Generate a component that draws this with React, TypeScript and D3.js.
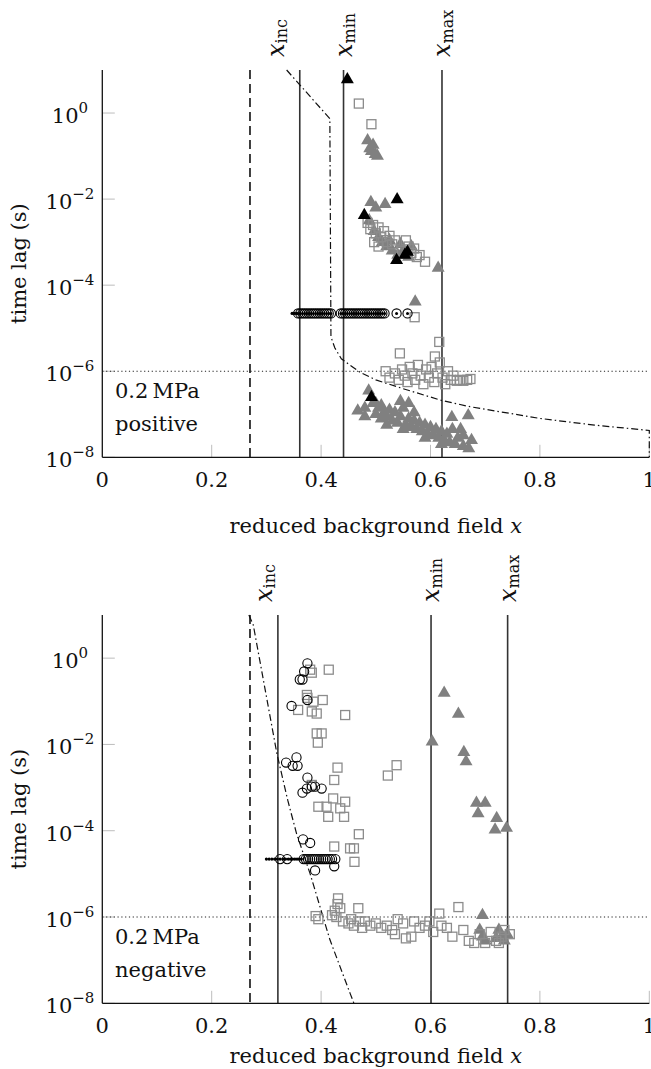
import React from "react";
import * as d3 from "d3";

// ---------- shared axis data ----------
const X_TICKS = [0, 0.2, 0.4, 0.6, 0.8, 1];
const X_TICK_LABELS = ["0", "0.2", "0.4", "0.6", "0.8", "1"];
const Y_TICK_EXPONENTS = [0, -2, -4, -6, -8];
const Y_DOMAIN: [number, number] = [1e-8, 1e1];
const X_DOMAIN: [number, number] = [0, 1];
const THRESHOLD = 1e-6;
const X_TITLE = "reduced background field ";
const Y_TITLE = "time lag (s)";

// ---------- top panel (positive) ----------
const TOP_LINES = { dashed: 0.27, inc: 0.361, min: 0.441, max: 0.621 };
const TOP_INC_LABEL_X = 0.318;
const TOP_CURVE: [number, number][] = [
  [0.337, 10], [0.416, 0.74], [0.418, 6.3e-6], [0.425, 3.5e-6], [0.437, 1.95e-6],
  [0.453, 1.38e-6], [0.471, 9.5e-7], [0.5, 6.3e-7], [0.548, 4.0e-7], [0.62, 2.1e-7],
  [0.672, 1.5e-7], [0.8, 8.0e-8], [0.9, 5.6e-8], [1.0, 4.2e-8], [1.0, 1e-8],
];
const TOP_GRAY_TRIANGLES: [number, number][] = [
  [0.485, 2.3e-1], [0.489, 1.5e-1], [0.499, 1.1e-1], [0.492, 1.3e-1], [0.503, 1.0e-1], [0.495, 1.8e-1],
  [0.491, 8.5e-3], [0.517, 7.6e-3], [0.5, 6.3e-3], [0.488, 3.2e-3], [0.497, 1.8e-3], [0.505, 1.3e-3],
  [0.512, 1.0e-3], [0.52, 7.9e-4], [0.53, 6.3e-4], [0.54, 5.0e-4], [0.55, 6.3e-4], [0.56, 4.5e-4],
  [0.525, 1.1e-3], [0.545, 8.9e-4], [0.565, 7.9e-4], [0.614, 2.5e-4], [0.572, 4.1e-5],
  [0.467, 1.2e-7], [0.487, 3.5e-7], [0.48, 1.4e-7], [0.495, 1.8e-7], [0.5, 1.0e-7], [0.505, 1.4e-7],
  [0.51, 7.9e-8], [0.515, 1.1e-7], [0.52, 8.9e-8], [0.525, 1.26e-7], [0.53, 7.1e-8], [0.535, 1.1e-7],
  [0.54, 6.3e-8], [0.545, 8.9e-8], [0.55, 1.4e-7], [0.555, 5.6e-8], [0.56, 7.9e-8], [0.565, 5.0e-8],
  [0.57, 7.1e-8], [0.575, 4.5e-8], [0.58, 6.3e-8], [0.585, 4.0e-8], [0.59, 5.6e-8], [0.595, 3.5e-8],
  [0.6, 5.0e-8], [0.605, 3.2e-8], [0.61, 4.5e-8], [0.615, 2.8e-8], [0.62, 4.0e-8], [0.625, 2.5e-8],
  [0.63, 3.5e-8], [0.635, 2.2e-8], [0.639, 8.5e-8], [0.645, 2.0e-8], [0.65, 2.8e-8], [0.655, 4.5e-8],
  [0.66, 1.8e-8], [0.669, 9.3e-8], [0.67, 1.6e-8], [0.675, 2.5e-8], [0.48, 8.9e-8], [0.51, 1.6e-7],
  [0.52, 5.6e-8], [0.55, 4.5e-8], [0.57, 1.1e-7], [0.59, 2.8e-8], [0.62, 2.0e-8], [0.64, 4.5e-8],
  [0.66, 3.2e-8], [0.5, 1.8e-7], [0.545, 2.0e-7], [0.56, 1.8e-7],
];
const TOP_SQUARES: [number, number][] = [
  [0.469, 1.66], [0.492, 5.5e-1],
  [0.485, 2.8e-3], [0.49, 2.0e-3], [0.495, 2.5e-3], [0.5, 1.6e-3], [0.505, 2.2e-3], [0.51, 1.3e-3],
  [0.515, 1.8e-3], [0.52, 1.0e-3], [0.525, 1.4e-3], [0.53, 8.9e-4], [0.535, 1.1e-3], [0.497, 1.0e-3],
  [0.505, 7.9e-4], [0.555, 1.1e-3], [0.56, 7.9e-4], [0.565, 5.6e-4], [0.57, 7.1e-4], [0.575, 4.5e-4],
  [0.58, 5.0e-4], [0.59, 3.5e-4], [0.548, 6.3e-4],
  [0.571, 1.8e-5], [0.616, 4.8e-6], [0.544, 2.6e-6], [0.608, 2.2e-6],
  [0.518, 1.0e-6], [0.525, 7.1e-7], [0.535, 8.9e-7], [0.542, 6.3e-7], [0.548, 1.1e-6], [0.553, 7.9e-7],
  [0.558, 5.6e-7], [0.562, 1.26e-6], [0.567, 8.9e-7], [0.572, 6.3e-7], [0.577, 1.4e-6], [0.582, 7.9e-7],
  [0.587, 5.0e-7], [0.592, 1.1e-6], [0.597, 7.1e-7], [0.602, 1.26e-6], [0.607, 5.6e-7], [0.612, 8.9e-7],
  [0.617, 1.6e-6], [0.622, 7.1e-7], [0.627, 5.0e-7], [0.632, 1.0e-6], [0.637, 6.3e-7], [0.642, 7.9e-7],
  [0.648, 6.0e-7], [0.654, 6.3e-7], [0.66, 6.0e-7], [0.667, 6.3e-7], [0.673, 6.6e-7],
];
const TOP_BLACK_TRIANGLES: [number, number][] = [
  [0.448, 6.0], [0.539, 9.8e-3], [0.479, 4.2e-3], [0.558, 5.9e-4], [0.538, 3.8e-4], [0.553, 5.0e-4], [0.492, 2.5e-7],
];
const TOP_DOT_CIRCLES: [number, number][] = [
  [0.358, 2.2e-5], [0.362, 2.2e-5], [0.366, 2.2e-5], [0.37, 2.2e-5], [0.374, 2.2e-5], [0.378, 2.2e-5],
  [0.382, 2.2e-5], [0.386, 2.2e-5], [0.39, 2.2e-5], [0.394, 2.2e-5], [0.398, 2.2e-5], [0.402, 2.2e-5],
  [0.406, 2.2e-5], [0.41, 2.2e-5], [0.414, 2.2e-5], [0.418, 2.2e-5],
  [0.436, 2.2e-5], [0.44, 2.2e-5], [0.444, 2.2e-5], [0.448, 2.2e-5], [0.452, 2.2e-5], [0.456, 2.2e-5],
  [0.46, 2.2e-5], [0.464, 2.2e-5], [0.468, 2.2e-5], [0.472, 2.2e-5], [0.476, 2.2e-5], [0.48, 2.2e-5],
  [0.484, 2.2e-5], [0.488, 2.2e-5], [0.492, 2.2e-5], [0.496, 2.2e-5], [0.5, 2.2e-5], [0.504, 2.2e-5],
  [0.508, 2.2e-5], [0.512, 2.2e-5], [0.516, 2.2e-5], [0.538, 2.2e-5], [0.558, 2.2e-5],
];
const TOP_DOTS: [number, number][] = [[0.347, 2.2e-5], [0.351, 2.2e-5], [0.355, 2.2e-5]];

// ---------- bottom panel (negative) ----------
const BOT_LINES = { dashed: 0.27, inc: 0.321, min: 0.601, max: 0.741 };
const BOT_INC_LABEL_X = 0.296;
const BOT_CURVE: [number, number][] = [
  [0.268, 10], [0.276, 5.9], [0.319, 6.3e-3], [0.339, 5.1e-4], [0.355, 8.7e-5],
  [0.38, 1.0e-5], [0.416, 3.0e-7], [0.453, 1.7e-8], [0.46, 1e-8],
];
const BOT_GRAY_TRIANGLES: [number, number][] = [
  [0.625, 1.55e-1], [0.651, 5.1e-2], [0.603, 1.15e-2], [0.661, 6.6e-3], [0.665, 4.0e-3],
  [0.684, 4.4e-4], [0.7, 4.4e-4], [0.687, 2.5e-4], [0.721, 1.95e-4], [0.718, 1.05e-4], [0.739, 1.15e-4],
  [0.695, 1.1e-6], [0.69, 5.0e-7], [0.695, 3.5e-7], [0.7, 2.8e-7], [0.725, 5.0e-7], [0.73, 3.5e-7],
  [0.735, 2.8e-7], [0.74, 4.0e-7], [0.72, 3.2e-7],
];
const BOT_SQUARES: [number, number][] = [
  [0.38, 5.4e-1], [0.383, 4.6e-1], [0.414, 5.4e-1], [0.374, 1.4e-1], [0.375, 1.2e-1], [0.386, 9.8e-2],
  [0.403, 1.07e-1], [0.358, 6.3e-2], [0.383, 5.8e-2], [0.392, 5.2e-2], [0.444, 4.8e-2], [0.392, 1.8e-2],
  [0.401, 1.8e-2], [0.394, 1.1e-2], [0.43, 2.9e-3], [0.424, 1.5e-3], [0.538, 3.3e-3], [0.522, 1.9e-3],
  [0.383, 1.15e-3], [0.422, 5.6e-4], [0.444, 4.7e-4], [0.395, 3.6e-4], [0.41, 3.6e-4], [0.435, 3.3e-4],
  [0.413, 2.1e-4], [0.442, 2.1e-4], [0.469, 8.3e-5], [0.424, 4.3e-5], [0.453, 3.9e-5], [0.46, 3.9e-5],
  [0.461, 1.9e-5],
  [0.431, 2.7e-6], [0.43, 2.0e-6], [0.425, 1.4e-6], [0.42, 1.1e-6], [0.435, 1.6e-6], [0.428, 1.0e-6],
  [0.39, 1.05e-6], [0.395, 8.9e-7], [0.44, 7.9e-7], [0.45, 7.1e-7], [0.455, 8.9e-7], [0.46, 6.3e-7],
  [0.468, 1.6e-6], [0.47, 7.9e-7], [0.475, 5.6e-7], [0.48, 7.9e-7], [0.49, 6.3e-7], [0.5, 7.1e-7],
  [0.51, 5.6e-7], [0.52, 6.3e-7], [0.53, 5.0e-7], [0.535, 4.0e-7], [0.54, 8.9e-7], [0.55, 7.1e-7],
  [0.555, 3.2e-7], [0.565, 3.5e-7], [0.57, 7.9e-7], [0.58, 5.6e-7], [0.59, 6.3e-7], [0.598, 7.9e-7],
  [0.605, 4.5e-7], [0.616, 1.2e-6], [0.62, 6.3e-7], [0.63, 5.6e-7], [0.64, 3.5e-7], [0.651, 1.7e-6],
  [0.66, 5.0e-7], [0.67, 2.8e-7], [0.68, 2.5e-7], [0.69, 4.0e-7], [0.7, 2.5e-7], [0.71, 4.5e-7],
  [0.72, 2.8e-7], [0.725, 2.5e-7], [0.73, 3.5e-7], [0.735, 5.0e-7], [0.745, 4.0e-7],
];
const BOT_CIRCLES: [number, number][] = [
  [0.375, 7.6e-1], [0.369, 4.9e-1], [0.361, 3.2e-1], [0.366, 3.2e-1], [0.375, 1.07e-1], [0.346, 7.8e-2],
  [0.355, 5.0e-3], [0.336, 3.8e-3], [0.348, 3.2e-3], [0.357, 3.2e-3], [0.375, 1.7e-3], [0.383, 1.05e-3],
  [0.374, 9.5e-4], [0.366, 7.6e-4], [0.401, 9.5e-4], [0.389, 1.05e-3], [0.367, 6.3e-5], [0.38, 5.2e-5],
  [0.389, 1.2e-5], [0.424, 1.5e-5],
  [0.325, 2.2e-5], [0.338, 2.2e-5], [0.368, 2.2e-5], [0.372, 2.2e-5], [0.376, 2.2e-5], [0.38, 2.2e-5],
  [0.384, 2.2e-5], [0.388, 2.2e-5], [0.392, 2.2e-5], [0.396, 2.2e-5], [0.4, 2.2e-5], [0.404, 2.2e-5],
  [0.408, 2.2e-5], [0.412, 2.2e-5], [0.416, 2.2e-5], [0.42, 2.2e-5], [0.426, 2.2e-5],
];
const BOT_DOTS: [number, number][] = [
  [0.3, 2.2e-5], [0.305, 2.2e-5], [0.31, 2.2e-5], [0.315, 2.2e-5], [0.32, 2.2e-5], [0.325, 2.2e-5],
  [0.33, 2.2e-5], [0.335, 2.2e-5], [0.34, 2.2e-5], [0.344, 2.2e-5], [0.348, 2.2e-5], [0.352, 2.2e-5],
  [0.356, 2.2e-5], [0.36, 2.2e-5], [0.364, 2.2e-5],
];

// ---------- layout ----------
const W = 651;
const H = 1069;
const PLOT_LEFT = 102.3;
const PLOT_RIGHT = 649.3;
const FONT = '"DejaVu Serif", "Liberation Serif", serif';
const GRAY = "#808080";
const SQ_GRAY = "#8c8c8c";
const FS = 21;
const FS_SMALL = 15;

type PanelProps = {
  top: number;
  bottom: number;
  lines: { dashed: number; inc: number; min: number; max: number };
  incLabelX: number;
  curve: [number, number][];
  grayTri: [number, number][];
  squares: [number, number][];
  blackTri: [number, number][];
  circles: [number, number][];
  dotCircles: [number, number][];
  dots: [number, number][];
  sign: string;
  titleBaseline: number;
};

function triPath(cx: number, cy: number, r: number) {
  const p = d3.path();
  p.moveTo(cx, cy - r);
  p.lineTo(cx + 0.866 * r, cy + 0.5 * r);
  p.lineTo(cx - 0.866 * r, cy + 0.5 * r);
  p.closePath();
  return p.toString();
}

function Panel(props: PanelProps) {
  const { top, bottom, lines } = props;
  const x = d3.scaleLinear().domain(X_DOMAIN).range([PLOT_LEFT, PLOT_RIGHT]);
  const y = d3.scaleLog().domain(Y_DOMAIN).range([bottom, top]);
  const line = d3.line<[number, number]>().x((d) => x(d[0])).y((d) => y(d[1]));
  const tickLen = 12.5;
  const yThr = y(THRESHOLD);
  const tstyle = { fontFamily: FONT };

  const vLabel = (xv: number, sub: string, key: string) => (
    <text
      key={key}
      transform={`translate(${x(xv)},${top - 13}) rotate(-90)`}
      textAnchor="start"
      dominantBaseline="central"
      fontSize={24}
      style={tstyle}
    >
      <tspan fontStyle="italic">x</tspan>
      <tspan fontSize={16} dy={5}>{sub}</tspan>
    </text>
  );

  return (
    <g fill="#111">
      {/* ticks */}
      {X_TICKS.slice(1).map((t) => (
        <line key={"xt" + t} x1={x(t)} x2={x(t)} y1={bottom} y2={bottom - tickLen} stroke="#bdbdbd" strokeWidth={1} />
      ))}
      {Y_TICK_EXPONENTS.map((e) => (
        <line key={"yt" + e} x1={PLOT_LEFT} x2={PLOT_LEFT + tickLen} y1={y(Math.pow(10, e))} y2={y(Math.pow(10, e))} stroke="#bdbdbd" strokeWidth={1} />
      ))}
      {/* threshold dotted */}
      <line x1={PLOT_LEFT} x2={PLOT_RIGHT} y1={yThr} y2={yThr} stroke="#222" strokeWidth={1.1} strokeDasharray="1.2,2.6" />
      {/* reference lines */}
      <line x1={x(lines.dashed)} x2={x(lines.dashed)} y1={top} y2={bottom} stroke="#111" strokeWidth={1.6} strokeDasharray="9,5" />
      {[lines.inc, lines.min, lines.max].map((v, i) => (
        <line key={"vl" + i} x1={x(v)} x2={x(v)} y1={top} y2={bottom} stroke="#333" strokeWidth={1.6} />
      ))}
      {/* dash-dot curve */}
      <path d={line(props.curve) || ""} fill="none" stroke="#111" strokeWidth={1.2} strokeDasharray="7,3,1.5,3" />
      {/* gray triangles */}
      {props.grayTri.map((d, i) => (
        <path key={"gt" + i} d={triPath(x(d[0]), y(d[1]), 7.5)} fill={GRAY} />
      ))}
      {/* squares */}
      {props.squares.map((d, i) => (
        <rect key={"sq" + i} x={x(d[0]) - 4.5} y={y(d[1]) - 4.5} width={9} height={9} fill="none" stroke={SQ_GRAY} strokeWidth={1.3} />
      ))}
      {/* black triangles */}
      {props.blackTri.map((d, i) => (
        <path key={"bt" + i} d={triPath(x(d[0]), y(d[1]), 7.5)} fill="#000" />
      ))}
      {/* small dots */}
      {props.dots.map((d, i) => (
        <circle key={"dt" + i} cx={x(d[0])} cy={y(d[1])} r={1.6} fill="#000" />
      ))}
      {/* open circles */}
      {props.circles.map((d, i) => (
        <circle key={"ci" + i} cx={x(d[0])} cy={y(d[1])} r={4.6} fill="none" stroke="#000" strokeWidth={1.1} />
      ))}
      {/* dotted circles */}
      {props.dotCircles.map((d, i) => (
        <g key={"dc" + i}>
          <circle cx={x(d[0])} cy={y(d[1])} r={4.6} fill="none" stroke="#000" strokeWidth={1.1} />
          <circle cx={x(d[0])} cy={y(d[1])} r={1.5} fill="#000" />
        </g>
      ))}
      {/* axis lines */}
      <line x1={PLOT_LEFT} x2={PLOT_LEFT} y1={top} y2={bottom} stroke="#111" strokeWidth={1.3} />
      <line x1={PLOT_LEFT} x2={PLOT_RIGHT} y1={bottom} y2={bottom} stroke="#111" strokeWidth={1.3} />
      {/* y tick labels */}
      {Y_TICK_EXPONENTS.map((e) => (
        <text key={"yl" + e} x={70} y={y(Math.pow(10, e)) + 10} textAnchor="middle" fontSize={FS} style={tstyle}>
          10
          <tspan fontSize={FS_SMALL} dy={-10}>{e < 0 ? "\u2212" + Math.abs(e) : String(e)}</tspan>
        </text>
      ))}
      {/* x tick labels */}
      {X_TICKS.map((t, i) => (
        <text key={"xl" + t} x={x(t)} y={bottom + 30} textAnchor="middle" fontSize={FS} style={tstyle}>
          {X_TICK_LABELS[i]}
        </text>
      ))}
      {/* axis titles */}
      <text
        x={(PLOT_LEFT + PLOT_RIGHT) / 2}
        y={props.titleBaseline}
        textAnchor="middle"
        fontSize={FS}
        style={tstyle}
      >
        {X_TITLE}
        <tspan fontStyle="italic">x</tspan>
      </text>
      <text
        transform={`translate(26,${(top + bottom) / 2}) rotate(-90)`}
        textAnchor="middle"
        fontSize={FS}
        style={tstyle}
      >
        {Y_TITLE}
      </text>
      {/* vertical line labels */}
      {vLabel(props.incLabelX, "inc", "linc")}
      {vLabel(lines.min, "min", "lmin")}
      {vLabel(lines.max, "max", "lmax")}
      {/* panel annotation */}
      <text x={115} y={yThr + 27} fontSize={FS} style={tstyle}>0.2{"\u2009"}MPa</text>
      <text x={115} y={yThr + 60} fontSize={FS} style={tstyle}>{props.sign}</text>
    </g>
  );
}

export default function App() {
  return (
    <svg
      width={W}
      height={H}
      viewBox={`0 0 ${W} ${H}`}
      style={{ position: "absolute", left: 0, top: 0, background: "#fff", overflow: "hidden" }}
    >
      <rect x={0} y={0} width={W} height={H} fill="#fff" />
      <Panel
        top={70}
        bottom={457.3}
        lines={TOP_LINES}
        incLabelX={TOP_INC_LABEL_X}
        curve={TOP_CURVE}
        grayTri={TOP_GRAY_TRIANGLES}
        squares={TOP_SQUARES}
        blackTri={TOP_BLACK_TRIANGLES}
        circles={[]}
        dotCircles={TOP_DOT_CIRCLES}
        dots={TOP_DOTS}
        sign="positive"
        titleBaseline={533}
      />
      <Panel
        top={615}
        bottom={1003.3}
        lines={BOT_LINES}
        incLabelX={BOT_INC_LABEL_X}
        curve={BOT_CURVE}
        grayTri={BOT_GRAY_TRIANGLES}
        squares={BOT_SQUARES}
        blackTri={[]}
        circles={BOT_CIRCLES}
        dotCircles={[]}
        dots={BOT_DOTS}
        sign="negative"
        titleBaseline={1063}
      />
    </svg>
  );
}
